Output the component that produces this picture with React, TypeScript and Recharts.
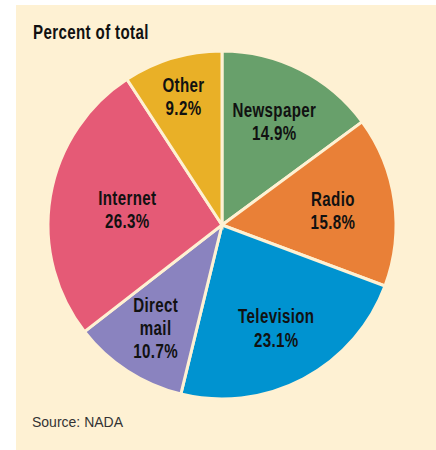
import { PieChart, Pie, Cell } from "recharts"

const categories = ["Newspaper", "Radio", "Television", "Direct mail", "Internet", "Other"]
const shares = [14.9, 15.8, 23.1, 10.7, 26.3, 9.2]

const data = categories.map((name, i) => ({ name, value: shares[i] }))

const COLORS: Record<string, string> = {
  Newspaper: "#68a06b",
  Radio: "#e98037",
  Television: "#0093d0",
  "Direct mail": "#8a83bf",
  Internet: "#e55a76",
  Other: "#e9b027",
}

// how far from the centre each label sits (px)
const LABEL_R: Record<string, number> = {
  Newspaper: 116,
  Radio: 112,
  Television: 116,
  "Direct mail": 122,
  Internet: 96,
  Other: 135,
}

const BG = "#fef1d3"
const BOLD_FONT = "'Liberation Sans', Arial, sans-serif"
const SQUEEZE = 0.72 // fake a condensed face
const FS = 21
const RAD = Math.PI / 180

function SliceLabel(props: any) {
  const { cx, cy, midAngle, name, value } = props
  const r = LABEL_R[name] ?? 110
  const x = cx + r * Math.cos(-midAngle * RAD)
  const y = cy + r * Math.sin(-midAngle * RAD)
  const lines = [...name.split(" "), `${value.toFixed(1)}%`]
  const lh = 23
  const first = y - ((lines.length - 1) * lh) / 2 + 7.5
  return (
    <g transform={`translate(${x},0) scale(${SQUEEZE},1) translate(${-x},0)`}>
      <text
        x={x}
        y={first}
        textAnchor="middle"
        fill="#111"
        fontFamily={BOLD_FONT}
        fontWeight="bold"
        fontSize={FS}
        letterSpacing={0.5}
      >
        {lines.map((l, i) => (
          <tspan key={i} x={x} dy={i === 0 ? 0 : lh}>
            {l}
          </tspan>
        ))}
      </text>
    </g>
  )
}

export default function App() {
  return (
    <div style={{ position: "fixed", left: 0, top: 0, width: 436, height: 450, background: "#fff" }}>
      <div style={{ position: "absolute", left: 16, top: 5, width: 420, height: 445, background: BG }}>
        <div
          style={{
            position: "absolute",
            left: 17,
            top: 15,
            fontFamily: BOLD_FONT,
            fontWeight: "bold",
            fontSize: FS,
            letterSpacing: 0.5,
            color: "#111",
            lineHeight: "24px",
            whiteSpace: "nowrap",
            transform: `scaleX(${SQUEEZE})`,
            transformOrigin: "left center",
          }}
        >
          Percent of total
        </div>
        <div style={{ position: "absolute", left: 0, top: 0 }}>
          <PieChart width={420} height={445} margin={{ top: 0, right: 0, bottom: 0, left: 0 }}>
            <Pie
              data={data}
              dataKey="value"
              nameKey="name"
              cx={206}
              cy={220}
              outerRadius={174}
              startAngle={90}
              endAngle={-270}
              stroke={BG}
              strokeWidth={3}
              label={SliceLabel}
              labelLine={false}
              isAnimationActive={false}
            >
              {data.map((d) => (
                <Cell key={d.name} fill={COLORS[d.name]} />
              ))}
            </Pie>
          </PieChart>
        </div>
        <div
          style={{
            position: "absolute",
            left: 16,
            top: 408,
            fontFamily: "'Liberation Sans', Arial, sans-serif",
            fontSize: 14,
            color: "#333",
            lineHeight: "18px",
            whiteSpace: "nowrap",
          }}
        >
          Source: NADA
        </div>
      </div>
    </div>
  )
}
